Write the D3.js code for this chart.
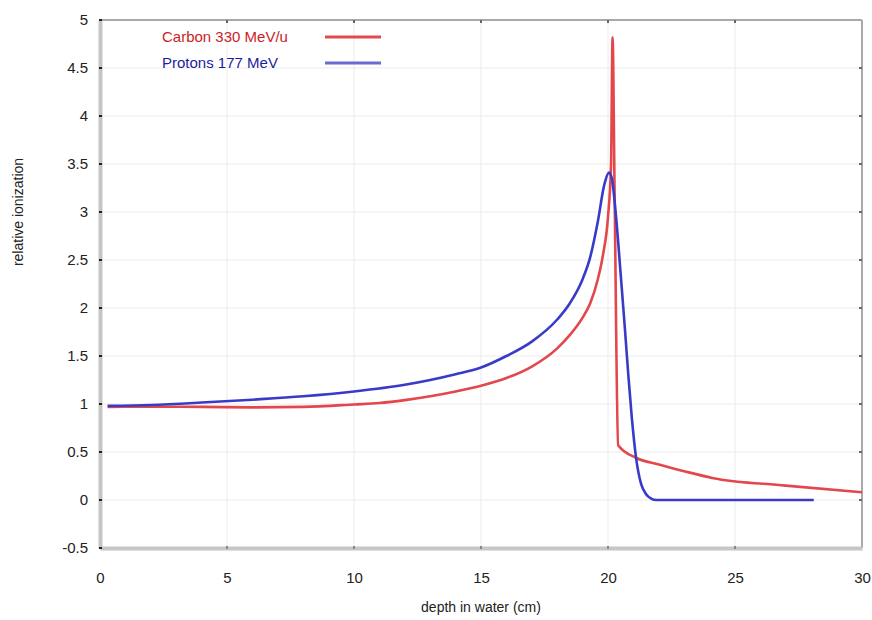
<!DOCTYPE html>
<html>
<head>
<meta charset="utf-8">
<script src="https://cdn.jsdelivr.net/npm/d3@7"></script>
<style>
  body { margin: 0; background: #fff; }
  svg text { font-family: "Liberation Sans", Arial, sans-serif; }
</style>
</head>
<body>
<svg id="braggChart" width="872" height="620"></svg>
<script>

// depth (cm), relative ionization
var carbonData = [
    [0.3, 0.97], [2, 0.972], [4, 0.97], [6, 0.965], [8, 0.97], [10, 0.995],
    [11, 1.01], [12, 1.04], [13, 1.08], [14, 1.13], [15, 1.19], [16, 1.27],
    [17, 1.39], [18, 1.58], [18.5, 1.72], [19, 1.9], [19.3, 2.05],
    [19.6, 2.3], [19.8, 2.55], [20, 2.95], [20.12, 3.5], [20.18, 4.82],
    [20.26, 3.2], [20.4, 0.57], [21.1, 0.44], [22, 0.37], [23, 0.3],
    [24.1, 0.23], [27, 0.15], [30, 0.08]
];

var protonData = [
    [0.3, 0.98], [2, 0.99], [4, 1.015], [6, 1.045], [8, 1.08], [10, 1.13],
    [12, 1.2], [13, 1.25], [14, 1.31], [15, 1.38], [16, 1.5], [17, 1.65],
    [18, 1.88], [18.5, 2.05], [19, 2.3], [19.3, 2.53], [19.6, 2.9],
    [19.85, 3.28], [20.04, 3.41], [20.15, 3.35], [20.3, 3.0], [20.5, 2.35],
    [20.67, 1.77], [20.8, 1.3], [20.94, 0.85], [21.1, 0.45], [21.3, 0.17],
    [21.5, 0.06], [21.7, 0.015], [21.9, 0], [25, 0], [28.1, 0]
];

var xTicks = [0, 5, 10, 15, 20, 25, 30];
var yTicks = [-0.5, 0, 0.5, 1, 1.5, 2, 2.5, 3, 3.5, 4, 4.5, 5];

var seriesNames = ["Carbon 330 MeV/u", "Protons 177 MeV"];

var chart = d3.select("svg#braggChart"),
    margin = { top: 20, right: 10, bottom: 72, left: 100 },
    width = 872 - margin.left - margin.right,
    height = 620 - margin.top - margin.bottom;

var x = d3.scaleLinear().domain([0, 30]).range([0, width]),
    y = d3.scaleLinear().domain([-0.5, 5]).range([height, 0]);

var g = chart.append("g")
    .attr("transform", "translate(" + margin.left + "," + margin.top + ")");

// grid
g.append("g")
    .selectAll("line")
    .data(xTicks.slice(1, -1))
    .enter().append("line")
    .attr("x1", function (d) { return x(d); })
    .attr("x2", function (d) { return x(d); })
    .attr("y1", 0).attr("y2", height)
    .attr("stroke", "#ebebeb").attr("stroke-width", 1);

g.append("g")
    .selectAll("line")
    .data(yTicks.slice(1, -1))
    .enter().append("line")
    .attr("y1", function (d) { return y(d); })
    .attr("y2", function (d) { return y(d); })
    .attr("x1", 0).attr("x2", width)
    .attr("stroke", "#ebebeb").attr("stroke-width", 1);

// frame: thin top/right, thick left/bottom
g.append("line").attr("x1", 0).attr("x2", width).attr("y1", 0).attr("y2", 0)
    .attr("stroke", "#a9a9a9").attr("stroke-width", 2);
g.append("line").attr("x1", width).attr("x2", width).attr("y1", 0).attr("y2", height)
    .attr("stroke", "#a9a9a9").attr("stroke-width", 2);

// axes
var xAxis = g.append("g")
    .attr("class", "axis axis--x")
    .attr("transform", "translate(0," + height + ")")
    .call(d3.axisBottom(x).tickValues(xTicks).tickSize(0).tickPadding(24));

var yAxis = g.append("g")
    .attr("class", "axis axis--y")
    .call(d3.axisLeft(y).tickValues(yTicks).tickSize(0).tickPadding(12)
        .tickFormat(function (d) { return String(d); }));

chart.selectAll(".axis path.domain")
    .attr("stroke", "#c6c6c6")
    .attr("stroke-width", 4);

chart.selectAll(".axis text")
    .style("font-size", "15px")
    .attr("fill", "#222");

// little tick marks
g.append("g").selectAll("rect")
    .data(yTicks)
    .enter().append("rect")
    .attr("x", -1).attr("y", function (d) { return y(d) - 1; })
    .attr("width", 3).attr("height", 2).attr("fill", "#222");

g.append("g").selectAll("rect")
    .data(yTicks.slice(1, -1))
    .enter().append("rect")
    .attr("x", width - 3).attr("y", function (d) { return y(d) - 1; })
    .attr("width", 3).attr("height", 2).attr("fill", "#666");

g.append("g").selectAll("rect")
    .data(xTicks.slice(1, -1))
    .enter().append("rect")
    .attr("x", function (d) { return x(d) - 1; }).attr("y", 0)
    .attr("width", 2).attr("height", 3).attr("fill", "#666");

g.append("g").selectAll("rect")
    .data(xTicks.slice(1, -1))
    .enter().append("rect")
    .attr("x", function (d) { return x(d) - 1; }).attr("y", height - 2)
    .attr("width", 2).attr("height", 3).attr("fill", "#888");

// curves
var line = d3.line()
    .x(function (d) { return x(d[0]); })
    .y(function (d) { return y(d[1]); })
    .curve(d3.curveMonotoneX);

g.append("path")
    .datum(carbonData)
    .attr("fill", "none")
    .attr("stroke", "#e4474b")
    .attr("stroke-width", 2.6)
    .attr("stroke-linejoin", "round")
    .attr("d", line);

g.append("path")
    .datum(protonData)
    .attr("fill", "none")
    .attr("stroke", "#3a3ac8")
    .attr("stroke-width", 2.6)
    .attr("stroke-linejoin", "round")
    .attr("d", line);

// legend
var legendColors = ["#e5484b", "#6a6ad0"],
    legendText = ["#c81e24", "#1c1ca0"];

var legend = chart.append("g").selectAll("g")
    .data(seriesNames)
    .enter().append("g")
    .attr("transform", function (d, i) { return "translate(0," + (37 + i * 26) + ")"; });

legend.append("text")
    .attr("x", 162)
    .attr("dy", "0.35em")
    .style("font-size", "15px")
    .attr("fill", function (d, i) { return legendText[i]; })
    .text(function (d) { return d; });

legend.append("line")
    .attr("x1", 325).attr("x2", 381)
    .attr("stroke", function (d, i) { return legendColors[i]; })
    .attr("stroke-width", 3);

// axis titles
chart.append("text")
    .attr("x", margin.left + width / 2)
    .attr("y", 612)
    .attr("text-anchor", "middle")
    .style("font-size", "14px")
    .attr("fill", "#222")
    .text("depth in water (cm)");

chart.append("text")
    .attr("transform", "translate(23,212) rotate(-90)")
    .attr("text-anchor", "middle")
    .style("font-size", "14px")
    .attr("fill", "#222")
    .text("relative ionization");

</script>
</body>
</html>
